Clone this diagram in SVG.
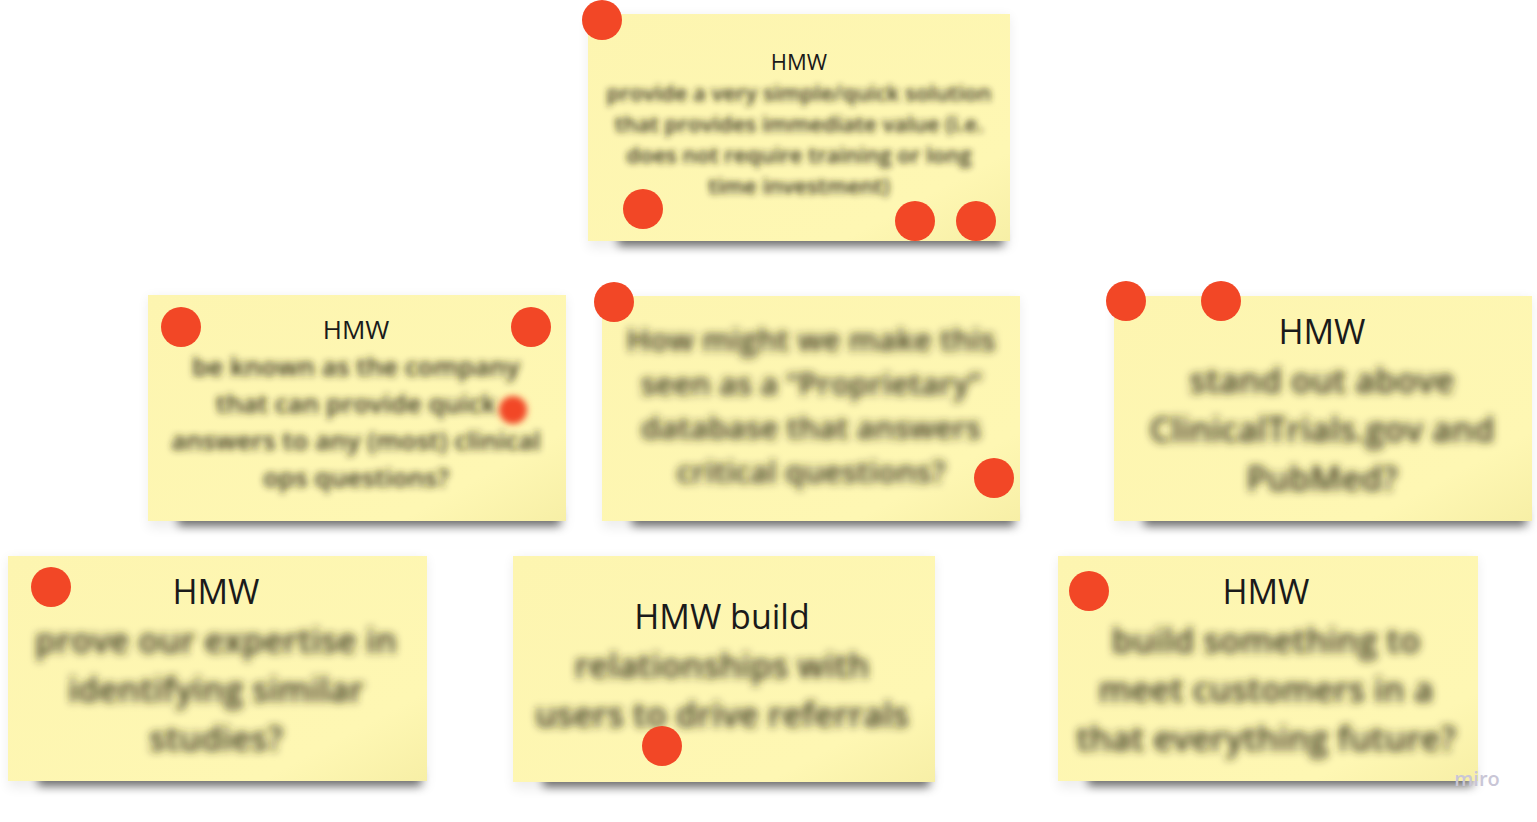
<svg xmlns="http://www.w3.org/2000/svg" width="1537" height="822" viewBox="0 0 1537 822">
<defs>
<filter id="shadow" x="-20%" y="-80%" width="140%" height="260%"><feGaussianBlur stdDeviation="5"/></filter>
<filter id="halo" x="-10%" y="-20%" width="120%" height="140%"><feGaussianBlur stdDeviation="6"/></filter>
<filter id="blurS" x="-0.02" y="-0.1" width="1.04" height="1.2"><feGaussianBlur stdDeviation="3"/></filter>
<filter id="blurM" x="-0.02" y="-0.1" width="1.04" height="1.2"><feGaussianBlur stdDeviation="3.8"/></filter>
<filter id="blurL" x="-0.02" y="-0.1" width="1.04" height="1.2"><feGaussianBlur stdDeviation="4.5"/></filter>
<filter id="dotBlur" x="-50%" y="-50%" width="200%" height="200%"><feGaussianBlur stdDeviation="3"/></filter>
<linearGradient id="paper" x1="0" y1="0" x2="1" y2="1">
<stop offset="0" stop-color="#fdf5b0"/>
<stop offset="0.8" stop-color="#fef7b3"/>
<stop offset="1" stop-color="#f7efa6"/>
</linearGradient>
</defs>
<style>
.note{fill:url(#paper)}
.sh{fill:#000;opacity:0.55;filter:url(#shadow)}
.ha{fill:#000;opacity:0.07;filter:url(#halo)}
.dot{fill:#f24726}
.t{font-family:"Open Sans","Liberation Sans",sans-serif;fill:#1a1a1a;text-anchor:middle}
.b{font-family:"Open Sans","Liberation Sans",sans-serif;fill:#2e2b18;text-anchor:middle;font-weight:600}
</style>
<rect width="1537" height="822" fill="#ffffff"/>
<g id="connectors"/>

<g id="note1">
<rect class="ha" x="588" y="16" width="422" height="232"/>
<rect class="sh" x="618" y="230" width="385" height="16"/>
<rect class="note" x="588" y="14" width="422" height="227"/>
<text class="t" x="799" y="70" font-size="22">HMW</text>
<g filter="url(#blurS)">
<text class="b" font-size="22"><tspan x="799" y="101">provide a very simple/quick solution</tspan><tspan x="799" y="132">that provides immediate value (i.e.</tspan><tspan x="799" y="163">does not require training or long</tspan><tspan x="799" y="194">time investment)</tspan></text>
</g>
<circle class="dot" cx="602" cy="20" r="20"/>
<circle class="dot" cx="643" cy="209" r="20"/>
<circle class="dot" cx="915" cy="221" r="20"/>
<circle class="dot" cx="976" cy="221" r="20"/>
</g>

<g id="note2">
<rect class="ha" x="148" y="297" width="418" height="231"/>
<rect class="sh" x="178" y="510" width="382" height="16"/>
<rect class="note" x="148" y="295" width="418" height="226"/>
<text class="t" x="356" y="339" font-size="26">HMW</text>
<g filter="url(#blurM)">
<text class="b" font-size="26"><tspan x="356" y="376">be known as the company</tspan><tspan x="356" y="413">that can provide quick</tspan><tspan x="356" y="450">answers to any (most) clinical</tspan><tspan x="356" y="487">ops questions?</tspan></text>
</g>
<circle class="dot" cx="181" cy="327" r="20"/>
<circle class="dot" cx="531" cy="327" r="20"/>
<circle class="dot" cx="513" cy="410" r="14" filter="url(#dotBlur)"/>
</g>

<g id="note3">
<rect class="ha" x="602" y="298" width="418" height="230"/>
<rect class="sh" x="632" y="510" width="382" height="16"/>
<rect class="note" x="602" y="296" width="418" height="225"/>
<g filter="url(#blurL)">
<text class="b" font-size="31"><tspan x="811" y="351">How might we make this</tspan><tspan x="811" y="395">seen as a “Proprietary”</tspan><tspan x="811" y="439">database that answers</tspan><tspan x="811" y="483">critical questions?</tspan></text>
</g>
<circle class="dot" cx="614" cy="302" r="20"/>
<circle class="dot" cx="994" cy="478" r="20"/>
</g>

<g id="note4">
<rect class="ha" x="1114" y="298" width="418" height="230"/>
<rect class="sh" x="1144" y="510" width="382" height="16"/>
<rect class="note" x="1114" y="296" width="418" height="225"/>
<text class="t" x="1322" y="344" font-size="34">HMW</text>
<g filter="url(#blurL)">
<text class="b" font-size="34"><tspan x="1322" y="393">stand out above</tspan><tspan x="1322" y="442">ClinicalTrials.gov and</tspan><tspan x="1322" y="491">PubMed?</tspan></text>
</g>
<circle class="dot" cx="1126" cy="301" r="20"/>
<circle class="dot" cx="1221" cy="301" r="20"/>
</g>

<g id="note5">
<rect class="ha" x="8" y="558" width="419" height="230"/>
<rect class="sh" x="38" y="770" width="383" height="16"/>
<rect class="note" x="8" y="556" width="419" height="225"/>
<text class="t" x="216" y="604" font-size="34">HMW</text>
<g filter="url(#blurL)">
<text class="b" font-size="34"><tspan x="216" y="653">prove our expertise in</tspan><tspan x="216" y="702">identifying similar</tspan><tspan x="216" y="751">studies?</tspan></text>
</g>
<circle class="dot" cx="51" cy="587" r="20"/>
</g>

<g id="note6">
<rect class="ha" x="513" y="558" width="422" height="231"/>
<rect class="sh" x="543" y="771" width="386" height="16"/>
<rect class="note" x="513" y="556" width="422" height="226"/>
<text class="t" x="722" y="629" font-size="34">HMW build</text>
<g filter="url(#blurL)">
<text class="b" font-size="34"><tspan x="722" y="678">relationships with</tspan><tspan x="722" y="727">users to drive referrals</tspan></text>
</g>
<circle class="dot" cx="662" cy="746" r="20"/>
</g>

<g id="note7">
<rect class="ha" x="1058" y="558" width="420" height="230"/>
<rect class="sh" x="1088" y="770" width="384" height="16"/>
<rect class="note" x="1058" y="556" width="420" height="225"/>
<text class="t" x="1266" y="604" font-size="34">HMW</text>
<g filter="url(#blurL)">
<text class="b" font-size="34"><tspan x="1266" y="653">build something to</tspan><tspan x="1266" y="702">meet customers in a</tspan><tspan x="1266" y="751">that everything future?</tspan></text>
</g>
<circle class="dot" cx="1089" cy="591" r="20"/>
</g>

<text x="1477" y="786" font-family="'Open Sans','Liberation Sans',sans-serif" font-size="20" font-weight="600" fill="#c9c6d6" text-anchor="middle">miro</text>
</svg>
